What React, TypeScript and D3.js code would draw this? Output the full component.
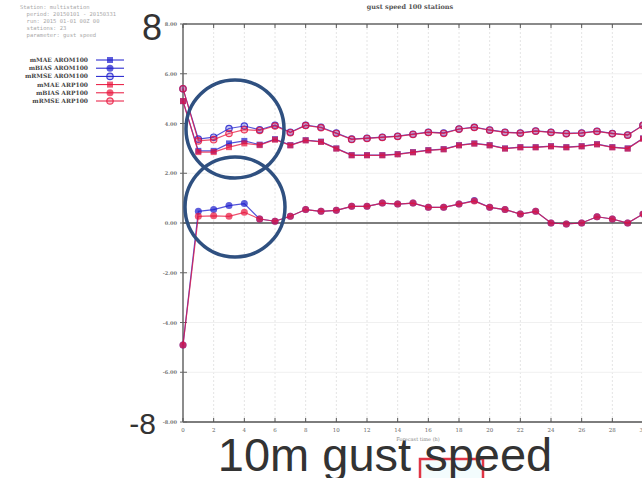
import React from "react";
import * as d3 from "d3";

// forecast hours 0..30
const hours = d3.range(0, 31);

const rmseArom = [5.4, 3.37, 3.45, 3.8, 3.9, 3.75, 3.93, 3.65, 3.93, 3.85, 3.62, 3.37, 3.41, 3.45, 3.49, 3.57, 3.65, 3.62, 3.78, 3.85, 3.74, 3.65, 3.62, 3.7, 3.65, 3.6, 3.62, 3.69, 3.6, 3.54, 3.93];
const rmseArp = [5.4, 3.3, 3.35, 3.6, 3.75, 3.72, 3.9, 3.63, 3.92, 3.83, 3.6, 3.36, 3.4, 3.44, 3.48, 3.56, 3.64, 3.6, 3.77, 3.84, 3.73, 3.64, 3.61, 3.69, 3.64, 3.59, 3.61, 3.68, 3.59, 3.53, 3.92];
const maeArom = [4.9, 2.9, 2.9, 3.2, 3.3, 3.15, 3.37, 3.13, 3.33, 3.27, 3.0, 2.73, 2.73, 2.73, 2.77, 2.85, 2.93, 2.97, 3.13, 3.2, 3.13, 3.0, 3.05, 3.05, 3.09, 3.05, 3.09, 3.17, 3.05, 3.0, 3.4];
const maeArp = [4.9, 2.85, 2.85, 3.05, 3.2, 3.13, 3.35, 3.12, 3.32, 3.26, 2.99, 2.72, 2.72, 2.72, 2.76, 2.84, 2.92, 2.96, 3.12, 3.19, 3.12, 2.99, 3.04, 3.04, 3.08, 3.04, 3.08, 3.16, 3.04, 2.99, 3.39];
const biasArom = [-4.9, 0.47, 0.54, 0.7, 0.78, 0.16, 0.07, 0.27, 0.54, 0.47, 0.51, 0.67, 0.67, 0.8, 0.76, 0.8, 0.63, 0.63, 0.76, 0.9, 0.63, 0.54, 0.36, 0.47, 0.0, -0.04, 0.0, 0.25, 0.16, 0.0, 0.36];
const biasArp = [-4.9, 0.27, 0.29, 0.27, 0.43, 0.16, 0.07, 0.27, 0.54, 0.47, 0.51, 0.67, 0.67, 0.8, 0.76, 0.8, 0.63, 0.63, 0.76, 0.88, 0.63, 0.54, 0.36, 0.47, 0.0, -0.04, 0.0, 0.25, 0.16, 0.0, 0.36];

const legendLabels = ["mMAE AROM100", "mBIAS AROM100", "mRMSE AROM100", "mMAE ARP100", "mBIAS ARP100", "mRMSE ARP100"];
const headerLines = ["Station: multistation", "  period: 20150101 - 20150331", "  run: 2015 01-01 00Z 00", "  stations: 23", "  parameter: gust speed"];
const yTicks = [8, 6, 4, 2, 0, -2, -4, -6, -8];
const xTicks = d3.range(0, 31, 2);

const BLUE = "#1a1acc";
const RED = "#e8143c";

const series = [
  { name: legendLabels[0], values: maeArom, color: BLUE, mark: "square" },
  { name: legendLabels[1], values: biasArom, color: BLUE, mark: "dot" },
  { name: legendLabels[2], values: rmseArom, color: BLUE, mark: "open" },
  { name: legendLabels[3], values: maeArp, color: RED, mark: "square" },
  { name: legendLabels[4], values: biasArp, color: RED, mark: "dot" },
  { name: legendLabels[5], values: rmseArp, color: RED, mark: "open" },
];

const Marker = ({ cx, cy, color, mark }: any) => {
  if (mark === "square")
    return <rect x={cx - 3} y={cy - 3} width={6} height={6} fill={color} fillOpacity={0.7} />;
  if (mark === "dot")
    return <circle cx={cx} cy={cy} r={3.5} fill={color} fillOpacity={0.7} />;
  return <circle cx={cx} cy={cy} r={3.2} fill={color} fillOpacity={0.25} stroke={color} strokeWidth={1.2} strokeOpacity={0.8} />;
};

export default function App() {
  const width = 642;
  const height = 478;
  const x = d3.scaleLinear().domain([0, 30]).range([183, 643]);
  const y = d3.scaleLinear().domain([-8, 8]).range([422, 24]);
  const line = d3
    .line<number>()
    .x((_, i) => x(hours[i]))
    .y((d) => y(d));

  return (
    <svg
      width={width}
      height={height}
      style={{ position: "fixed", left: 0, top: 0, background: "#fff" }}
      fontFamily="'DejaVu Serif', serif"
    >
      {/* header block */}
      {headerLines.map((t, i) => (
        <text key={t} x={20} y={9 + i * 7} fontSize={5.5} fill="#aaa" fontFamily="'DejaVu Sans Mono', monospace" xmlSpace="preserve">
          {t}
        </text>
      ))}

      {/* legend */}
      {series.map((s, i) => {
        const ly = 60 + i * 8.2;
        return (
          <g key={s.name}>
            <text x={88} y={ly + 2} fontSize={6} fontWeight="bold" textAnchor="end" fill="#444">
              {s.name}
            </text>
            <line x1={96} x2={124} y1={ly} y2={ly} stroke={s.color} strokeWidth={1} />
            <Marker cx={110} cy={ly} color={s.color} mark={s.mark} />
          </g>
        );
      })}

      {/* title */}
      <text x={410} y={9} fontSize={6.5} fontWeight="bold" textAnchor="middle" fill="#555">
        gust speed 100 stations
      </text>

      {/* grid */}
      {xTicks.slice(1).map((t) => (
        <line key={"gx" + t} x1={x(t)} x2={x(t)} y1={24} y2={422} stroke="#e4e4e4" strokeWidth={1} strokeDasharray="2 2" />
      ))}
      {yTicks.map((t) => (
        <line key={"gy" + t} x1={183} x2={642} y1={y(t)} y2={y(t)} stroke="#f0f0f0" strokeWidth={1} />
      ))}

      {/* frame */}
      <line x1={183} x2={642} y1={24} y2={24} stroke="#666" strokeWidth={1.5} />
      <line x1={183} x2={642} y1={422} y2={422} stroke="#555" strokeWidth={1.5} />
      <line x1={183} x2={183} y1={24} y2={422} stroke="#666" strokeWidth={1.5} />
      <line x1={183} x2={642} y1={y(0)} y2={y(0)} stroke="#555" strokeWidth={1.5} />

      {/* ticks */}
      {xTicks.map((t) => (
        <g key={"tx" + t}>
          <line x1={x(t)} x2={x(t)} y1={422} y2={418} stroke="#555" />
          <line x1={x(t)} x2={x(t)} y1={24} y2={28} stroke="#555" />
          <text x={x(t)} y={432} fontSize={5.5} textAnchor="middle" fill="#666">
            {t}
          </text>
        </g>
      ))}
      {yTicks.map((t) => (
        <g key={"ty" + t}>
          <line x1={180} x2={187} y1={y(t)} y2={y(t)} stroke="#666" />
          <text x={177} y={y(t) + 2} fontSize={5} fontWeight="bold" textAnchor="end" fill="#777">
            {t.toFixed(2)}
          </text>
        </g>
      ))}
      <text x={418} y={441} fontSize={5} textAnchor="middle" fill="#888">
        Forecast time (h)
      </text>

      {/* series */}
      {series.map((s) => (
        <g key={"s" + s.name}>
          <path d={line(s.values) || ""} fill="none" stroke={s.color} strokeWidth={1.2} strokeOpacity={0.75} />
          {s.values.map((v, i) => (
            <Marker key={i} cx={x(hours[i])} cy={y(v)} color={s.color} mark={s.mark} />
          ))}
        </g>
      ))}

      {/* slide annotations */}
      <circle cx={235} cy={129} r={49} fill="none" stroke="#2f5080" strokeWidth={3.5} />
      <circle cx={235} cy={207} r={50} fill="none" stroke="#2f5080" strokeWidth={3.5} />
      <rect x={420} y={459} width={63} height={24} fill="#f3fcfd" stroke="#e03545" strokeWidth={2.5} />
      <text x={162} y={40} fontSize={36} textAnchor="end" fill="#333" fontFamily="'Liberation Sans', Arial, sans-serif">
        8
      </text>
      <text x={156} y={434} fontSize={30} textAnchor="end" fill="#333" fontFamily="'Liberation Sans', Arial, sans-serif">
        -8
      </text>
      <text x={385} y={471} fontSize={47} textAnchor="middle" fill="#333" fontFamily="'Liberation Sans', Arial, sans-serif">
        10m gust speed
      </text>
    </svg>
  );
}
